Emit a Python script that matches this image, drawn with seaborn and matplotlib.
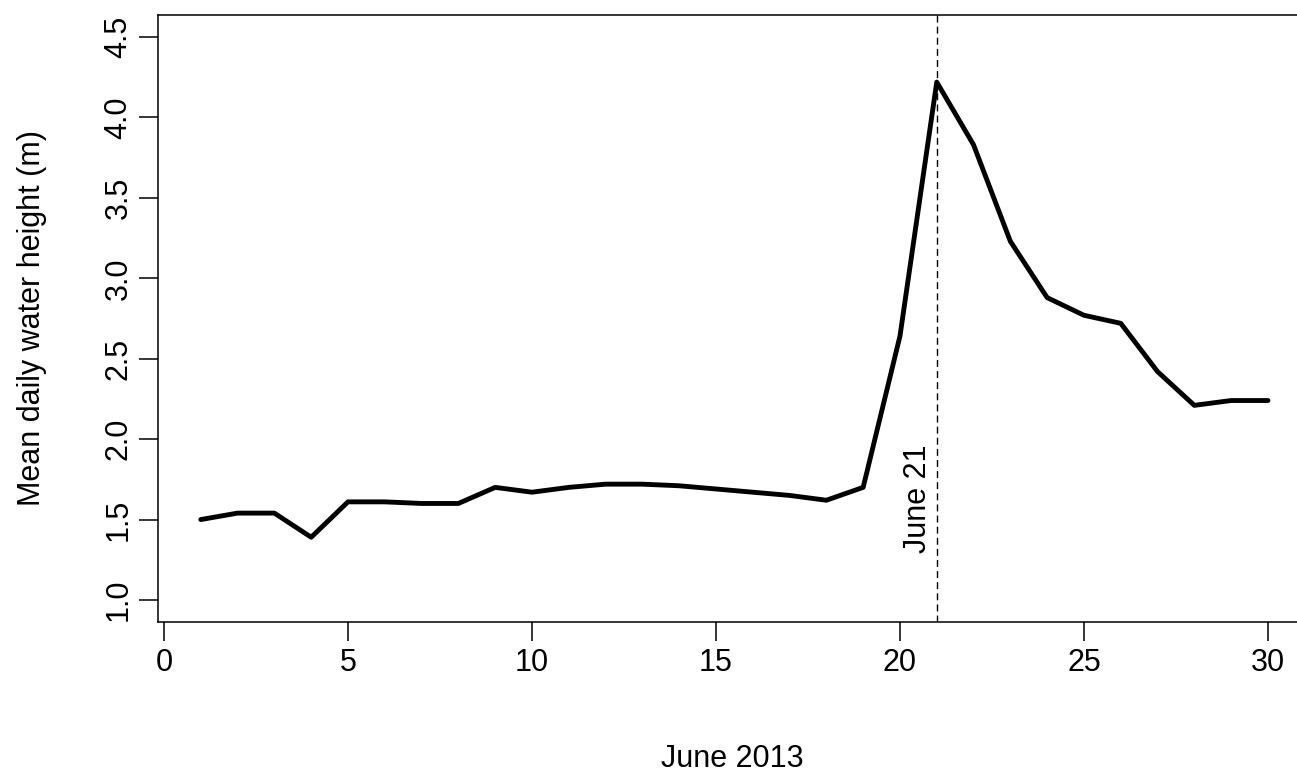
import numpy as np
import pandas as pd
import matplotlib
matplotlib.use("Agg")
import matplotlib.pyplot as plt
import seaborn as sns

# mean daily water height, June 2013
days = list(range(1, 31))
height = [1.50, 1.54, 1.54, 1.39, 1.61, 1.61, 1.60, 1.60, 1.70, 1.67,
          1.70, 1.72, 1.72, 1.71, 1.69, 1.67, 1.65, 1.62, 1.70, 2.64,
          4.22, 3.83, 3.23, 2.88, 2.77, 2.72, 2.42, 2.21, 2.24, 2.24]
x_ticks = [0, 5, 10, 15, 20, 25, 30]
y_ticks = [1.0, 1.5, 2.0, 2.5, 3.0, 3.5, 4.0, 4.5]
event_day = 21
event_label = "June 21"

df = pd.DataFrame({"day": days, "height": height})

sns.set_style("white")
plt.rcParams["font.family"] = ["Liberation Sans", "DejaVu Sans"]
plt.rcParams["text.color"] = "black"

fig = plt.figure(figsize=(12.97, 7.73), dpi=100)
ax = fig.add_axes([158 / 1297, 1 - 622 / 773, 1139 / 1297, 607 / 773])

sns.lineplot(data=df, x="day", y="height", color="black", linewidth=3.5, ax=ax)
ax.axvline(event_day, color="black", linewidth=1.0, linestyle=(0, (5, 3)))
ax.text(event_day - 0.5, 1.63, event_label, rotation=90, ha="center", va="center",
        fontsize=22, color="black")

ax.set_xlim(-0.163, 30.79)
ax.set_ylim(0.863, 4.637)
ax.set_xticks(x_ticks)
ax.set_xticklabels([str(t) for t in x_ticks])
ax.set_yticks(y_ticks)
ax.set_yticklabels([f"{t:.1f}" for t in y_ticks], rotation=90, va="center")

ax.tick_params(axis="both", direction="out", length=13.5, width=1.1,
               labelsize=22, colors="black", pad=4, bottom=True, left=True)
ax.tick_params(axis="x", pad=5)
for side in ["left", "bottom", "top"]:
    ax.spines[side].set_color("black")
    ax.spines[side].set_linewidth(1.1)
ax.spines["right"].set_visible(False)

ax.set_xlabel("June 2013", fontsize=22, color="black")
ax.xaxis.set_label_coords(0.504, -0.2256)
ax.xaxis.label.set_va("center")
ax.set_ylabel("Mean daily water height (m)", fontsize=22, color="black")
ax.yaxis.set_label_coords(-0.1106, 0.5)
ax.yaxis.label.set_va("center")

fig.savefig("out.png", dpi=100)
